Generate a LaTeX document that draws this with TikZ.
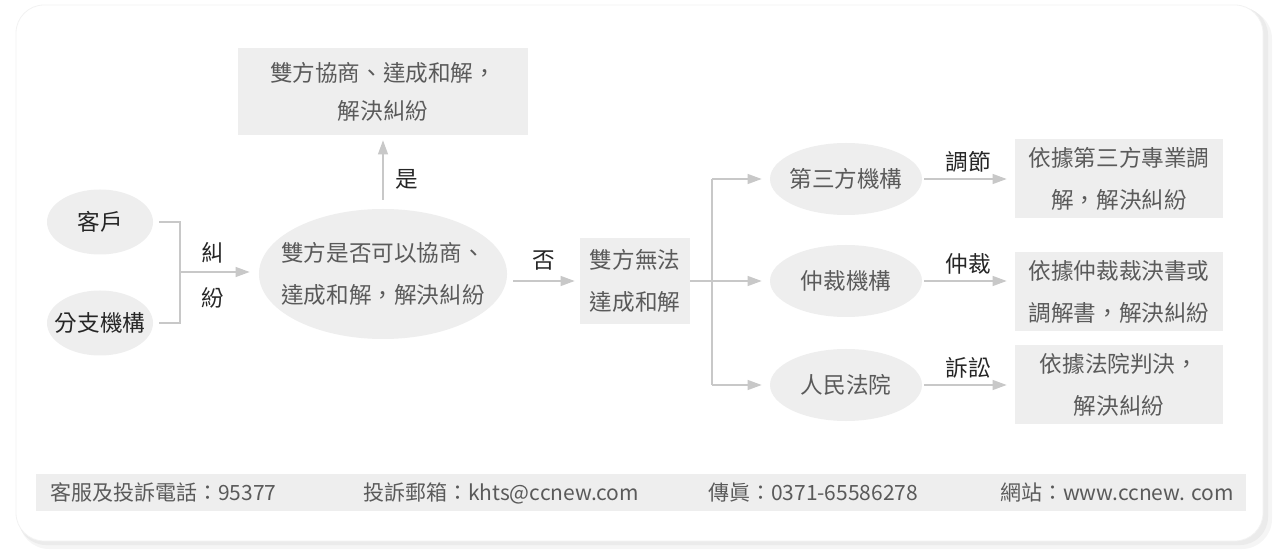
\documentclass[tikz,border=0pt]{standalone}
\usepackage{fontspec}
\setmainfont{Noto Sans CJK TC}
\usetikzlibrary{shapes.geometric,arrows.meta}

\definecolor{fillgray}{HTML}{EEEEEE}
\definecolor{wiregray}{HTML}{C8C8C8}
\definecolor{bodytext}{HTML}{5A5A5A}
\definecolor{tagtext}{HTML}{262626}

\tikzset{
  bodyfont/.style={font=\fontsize{11.3}{21}\selectfont, text=bodytext},
  oval/.style={ellipse, fill=fillgray, inner xsep=-7pt, inner ysep=0pt,
               align=center, bodyfont},
  panel/.style={rectangle, fill=fillgray, inner sep=0pt, align=center, bodyfont},
  wire/.style={draw=wiregray, line width=0.6pt},
  flow/.style={wire, -{Triangle[length=7pt,width=5pt]}},
  tag/.style={font=\fontsize{11.3}{13}\selectfont, text=tagtext, inner sep=2pt},
  footer/.style={font=\fontsize{10.5}{12}\selectfont, text=bodytext, anchor=west},
}

\begin{document}
\begin{tikzpicture}[x=0.5pt, y=-0.5pt]
\useasboundingbox (0,0) rectangle (1284,550);

% card and its shadow
\fill[black!4, rounded corners=15pt] (19,9) rectangle (1272,549);
\fill[black!8, rounded corners=14pt] (18,7) rectangle (1268,545);
\filldraw[fill=white, draw=black!5, rounded corners=14pt] (16,5) rectangle (1263,541);

% who raises the dispute
\node[oval, text=tagtext, minimum width=53pt, minimum height=32.5pt] (cust) at (100,222) {客戶};
\node[oval, text=tagtext, minimum width=53pt, minimum height=32.5pt] (branch) at (100,323) {分支機構};

\node[oval, minimum width=123pt, minimum height=65pt] (ask) at (383,274)
  {雙方是否可以協商、\\達成和解，解決糾紛};
\node[panel, font=\fontsize{11.3}{19}\selectfont, minimum width=145pt, minimum height=43.5pt]
  (agree) at (383,91.5) {雙方協商、達成和解，\\解決糾紛};
\node[panel, minimum width=55pt, minimum height=43pt] (fail) at (635,281) {雙方無法\\達成和解};

\coordinate (merge) at (180,272);
\coordinate (split) at (712,281);

\draw[wire] ([xshift=3pt]cust.east) -| (merge) |- ([xshift=3pt]branch.east);
\draw[flow, shorten >=4.5pt] (merge) -- (ask.west |- merge);
\node[tag] (tag-jiu) at (213,253) {糾};
\node[tag] (tag-fen) at (213,298) {紛};

\draw[flow, shorten <=4.5pt, shorten >=2.5pt] (ask.north) -- (agree.south)
  node[tag, pos=0.4, right=4pt] (tag-yes) {是};
\draw[flow, shorten <=3pt, shorten >=2.5pt] (ask.east |- fail) -- (fail.west)
  node[tag, midway, above=3pt] (tag-no) {否};

% three ways out
\draw[wire] (fail.east) -- (split);
\foreach [count=\i] \y/\org/\lab/\ry/\res in
  {179/第三方機構/調節/178.5/{依據第三方專業調\\解，解決糾紛},
   281/仲裁機構/仲裁/292/{依據仲裁裁決書或\\調解書，解決糾紛},
   385/人民法院/訴訟/384.5/{依據法院判決，\\解決糾紛}}
  {
   \node[oval, minimum width=76pt, minimum height=36pt] (org-\i) at (846,\y) {\org};
   \node[panel, minimum width=104pt, minimum height=39.5pt] (res-\i) at (1119,\ry) {\res};
   \draw[flow, shorten >=4pt] (split |- org-\i) -- (org-\i.west);
   \draw[flow, shorten <=1pt, shorten >=4pt] (org-\i.east) -- (res-\i.west |- org-\i)
     node[tag, midway, above=1pt] (tag-\i) {\lab};
  }
\draw[wire] (split |- org-1) -- (split |- org-3);

% contact bar
\node[panel, minimum width=605pt, minimum height=18.5pt] (bar) at (640.5,492.5) {};
\node[footer] (phone) at (43,493) {客服及投訴電話：95377};
\node[footer] (mail) at (356,493) {投訴郵箱：khts@ccnew.com};
\node[footer] (fax) at (701,493) {傳眞：0371-65586278};
\node[footer] (web) at (993,493) {網站：www.ccnew. com};

\end{tikzpicture}
\end{document}
